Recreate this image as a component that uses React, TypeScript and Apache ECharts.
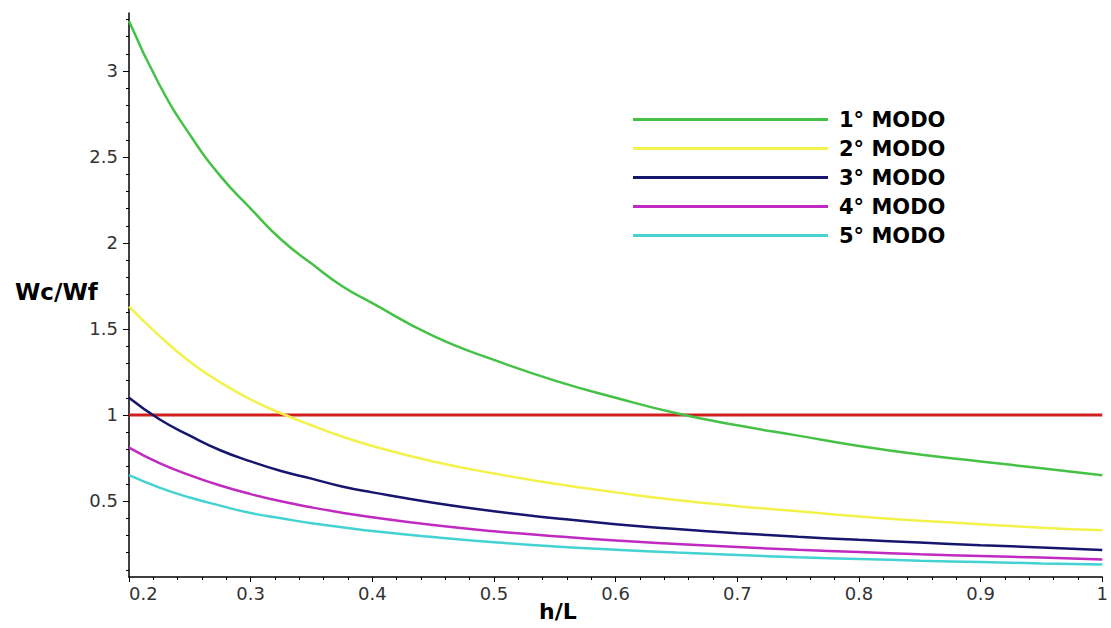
import React, { useEffect, useRef } from "react";
import * as echarts from "echarts";

const hL = [0.2, 0.225, 0.25, 0.275, 0.3, 0.325, 0.35, 0.375, 0.4, 0.45, 0.5, 0.55, 0.6, 0.65, 0.7, 0.75, 0.8, 0.85, 0.9, 0.95, 1.0];
const modo1 = [3.29, 2.92, 2.63, 2.39, 2.2, 2.02, 1.88, 1.75, 1.65, 1.46, 1.32, 1.2, 1.1, 1.01, 0.94, 0.88, 0.82, 0.77, 0.73, 0.69, 0.65];
const modo2 = [1.63, 1.46, 1.31, 1.19, 1.09, 1.01, 0.94, 0.875, 0.82, 0.73, 0.66, 0.6, 0.55, 0.505, 0.47, 0.44, 0.41, 0.385, 0.365, 0.345, 0.33];
const modo3 = [1.1, 0.975, 0.88, 0.795, 0.73, 0.674, 0.63, 0.584, 0.55, 0.49, 0.44, 0.4, 0.365, 0.337, 0.313, 0.292, 0.274, 0.258, 0.243, 0.23, 0.215];
const modo4 = [0.81, 0.72, 0.65, 0.59, 0.54, 0.498, 0.463, 0.432, 0.405, 0.36, 0.324, 0.295, 0.27, 0.25, 0.232, 0.216, 0.203, 0.19, 0.18, 0.171, 0.16];
const modo5 = [0.65, 0.578, 0.52, 0.473, 0.43, 0.4, 0.37, 0.347, 0.325, 0.29, 0.26, 0.236, 0.217, 0.2, 0.186, 0.173, 0.163, 0.153, 0.145, 0.137, 0.13];
const refX = [0.2, 1.0];
const refY = [1, 1];

const seriesNames = ["1° MODO", "2° MODO", "3° MODO", "4° MODO", "5° MODO"];
const seriesColors = ["#45c245", "#f2f24a", "#16166e", "#c02ac0", "#45d2d2"];

const xMajor = [0.2, 0.3, 0.4, 0.5, 0.6, 0.7, 0.8, 0.9, 1];
const xMinor = [0.22, 0.24, 0.26, 0.28, 0.32, 0.34, 0.36, 0.38, 0.42, 0.44, 0.46, 0.48, 0.52, 0.54, 0.56, 0.58, 0.62, 0.64, 0.66, 0.68, 0.72, 0.74, 0.76, 0.78, 0.82, 0.84, 0.86, 0.88, 0.92, 0.94, 0.96, 0.98];
const yMajor = [0.5, 1, 1.5, 2, 2.5, 3];
const yMinor = [0.1, 0.2, 0.3, 0.4, 0.6, 0.7, 0.8, 0.9, 1.1, 1.2, 1.3, 1.4, 1.6, 1.7, 1.8, 1.9, 2.1, 2.2, 2.3, 2.4, 2.6, 2.7, 2.8, 2.9, 3.1, 3.2, 3.3];

const X_MIN = 0.2;
const X_MAX = 1.0;
const Y_MIN = 0.058;
const Y_MAX = 3.337;

export default function App() {
  const ref = useRef<HTMLDivElement>(null);
  useEffect(() => {
    if (!ref.current) return;
    const chart = echarts.init(ref.current, undefined, { renderer: "svg" });
    const font = "DejaVu Sans";
    const modes = [modo1, modo2, modo3, modo4, modo5];
    const axisLineStyle = { color: "#000", width: 1.5 };
    chart.setOption({
      animation: false,
      backgroundColor: "#ffffff",
      grid: { left: 129, right: 8, top: 13, bottom: 51 },
      legend: {
        data: seriesNames,
        orient: "vertical",
        left: 628,
        top: 104,
        itemWidth: 195,
        itemHeight: 3,
        itemGap: 8,
        icon: "rect",
        textStyle: { fontFamily: font, fontWeight: "bold", fontSize: 21, color: "#000", padding: [0, 0, 0, 6] },
      },
      xAxis: [
        {
          type: "value",
          min: X_MIN,
          max: X_MAX,
          axisLine: { show: true, lineStyle: axisLineStyle },
          axisTick: { show: true, customValues: xMajor, length: 5, lineStyle: { color: "#000" } },
          axisLabel: {
            customValues: xMajor,
            formatter: (v: number) => String(Math.round(v * 10) / 10),
            fontFamily: font,
            fontSize: 18,
            color: "#333",
            margin: 7,
            alignMinLabel: "left",
            alignMaxLabel: "center",
          },
          splitLine: { show: false },
        },
        {
          type: "value",
          position: "bottom",
          min: X_MIN,
          max: X_MAX,
          axisLine: { show: false },
          axisTick: { show: true, customValues: xMinor, length: 3, lineStyle: { color: "#000" } },
          axisLabel: { show: false },
          splitLine: { show: false },
        },
      ],
      yAxis: [
        {
          type: "value",
          min: Y_MIN,
          max: Y_MAX,
          axisLine: { show: true, lineStyle: axisLineStyle },
          axisTick: { show: true, customValues: yMajor, length: 6, lineStyle: { color: "#000" } },
          axisLabel: {
            customValues: yMajor,
            formatter: (v: number) => String(v),
            fontFamily: font,
            fontSize: 18,
            color: "#333",
            margin: 11,
          },
          splitLine: { show: false },
        },
        {
          type: "value",
          position: "left",
          min: Y_MIN,
          max: Y_MAX,
          axisLine: { show: false },
          axisTick: { show: true, customValues: yMinor, length: 3, lineStyle: { color: "#000" } },
          axisLabel: { show: false },
          splitLine: { show: false },
        },
      ],
      graphic: [
        {
          type: "text",
          left: 15,
          top: 280,
          style: { text: "Wc/Wf", font: `bold 23px "${font}"`, fill: "#000" },
        },
        {
          type: "text",
          left: 539,
          top: 600,
          style: { text: "h/L", font: `bold 22px "${font}"`, fill: "#000" },
        },
      ],
      series: [
        {
          name: "ref",
          type: "line",
          data: refX.map((x, i) => [x, refY[i]]),
          showSymbol: false,
          lineStyle: { color: "#d21e1e", width: 3 },
          itemStyle: { color: "#d21e1e" },
          z: 1,
        },
        ...modes.map((vals, k) => ({
          name: seriesNames[k],
          type: "line",
          data: hL.map((x, i) => [x, vals[i]]),
          smooth: true,
          showSymbol: false,
          lineStyle: { color: seriesColors[k], width: 2.5 },
          itemStyle: { color: seriesColors[k] },
          z: 2,
        })),
      ],
    });
    return () => chart.dispose();
  }, []);
  return <div ref={ref} style={{ position: "fixed", left: 0, top: 0, width: 1111, height: 628, background: "#fff" }} />;
}
